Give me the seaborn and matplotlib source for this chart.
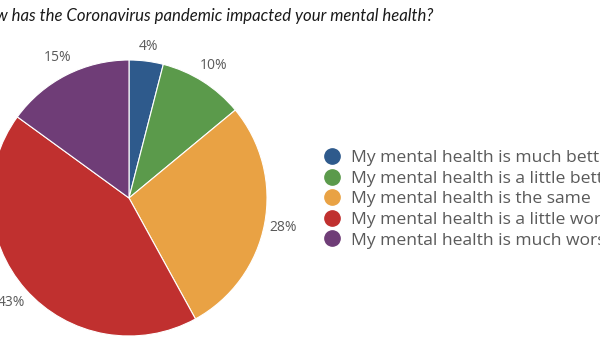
import matplotlib
matplotlib.use("Agg")
import numpy as np
import matplotlib.pyplot as plt
from matplotlib.lines import Line2D
import seaborn as sns

sns.set_theme(style="white")
plt.rcParams['font.family'] = ['Open Sans', 'DejaVu Sans']

title = "How has the Coronavirus pandemic impacted your mental health?"
categories = [
    "My mental health is much better",
    "My mental health is a little better",
    "My mental health is the same",
    "My mental health is a little worse",
    "My mental health is much worse",
]
values = [4, 10, 28, 43, 15]
colors = ["#2E5A8C", "#5B9A4B", "#E9A244", "#C0302F", "#6F3D77"]
palette = sns.color_palette(colors)

fig = plt.figure(figsize=(6, 3.5), dpi=100)
ax = fig.add_axes([0, 0, 1, 1])
center = (129, 152)
radius = 138
wedges, texts, autotexts = ax.pie(
    values, colors=palette, startangle=90, counterclock=False,
    center=center, radius=radius, frame=True,
    autopct='%.0f%%', pctdistance=1.14,
    wedgeprops=dict(edgecolor="white", linewidth=0.8),
    textprops=dict(color="#5a5a5a", fontsize=10),
)
# the smallest slice's label sits a little closer to the rim
w0 = wedges[0]
mid = np.deg2rad((w0.theta1 + w0.theta2) / 2)
autotexts[0].set_position((center[0] + 1.105 * radius * np.cos(mid),
                           center[1] + 1.105 * radius * np.sin(mid)))

ax.set_xlim(0, 600)
ax.set_ylim(0, 350)
ax.set_aspect('equal')
ax.axis('off')

fig.text(433 / 600, 0.955, title, fontsize=12.05, style='italic', color="#1a1a1a",
         ha='right', va='center', family=['Lato', 'DejaVu Sans'])

handles = [Line2D([0], [0], marker='o', linestyle='none', markersize=11,
                  markerfacecolor=c, markeredgecolor=c) for c in palette]
leg = ax.legend(handles, categories, loc='center left',
                bbox_to_anchor=(0.5267, 0.431), frameon=False,
                fontsize=12.6, labelcolor="#5a5a5a", handletextpad=0.6,
                labelspacing=0.25, handlelength=1.0, borderaxespad=0)

fig.savefig("out.png", dpi=100)
